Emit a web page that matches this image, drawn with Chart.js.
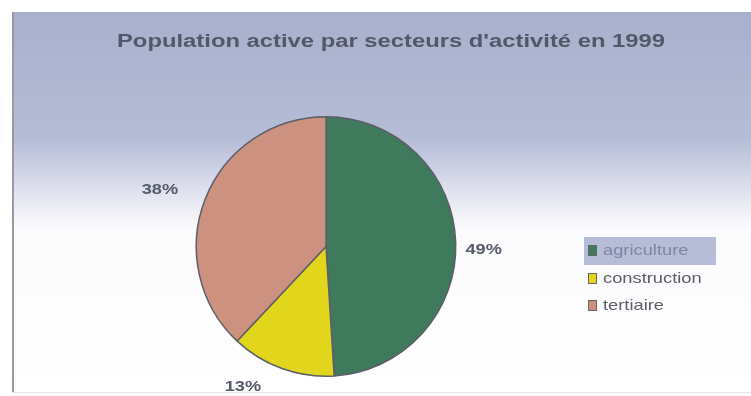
<!DOCTYPE html>
<html>
<head>
<meta charset="utf-8">
<script src="https://cdn.jsdelivr.net/npm/chart.js@4.4.1/dist/chart.umd.min.js"></script>
<style>
  html, body { margin: 0; padding: 0; background: #ffffff; }
  #wrap { position: relative; width: 751px; height: 396px; }
</style>
</head>
<body>
<div id="wrap"><canvas id="c" width="751" height="396"></canvas></div>
<script>
const chartTitle = "Population active par secteurs d'activité en 1999";
const categories = ["agriculture", "construction", "tertiaire"];
const shares = [49, 13, 38];
const sliceColors = ["#3f7a5c", "#e2d61c", "#cc917f"];

// draw text widened horizontally (scanned originals look stretched)
function wideText(ctx, text, x, y, sx, align) {
  const w = ctx.measureText(text).width * sx;
  let left = x;
  if (align === 'center') left = x - w / 2;
  ctx.save();
  ctx.textAlign = 'left';
  ctx.translate(left, y);
  ctx.scale(sx, 1);
  ctx.fillText(text, 0, 0);
  ctx.restore();
}

const bgPlugin = {
  id: 'bgPlugin',
  beforeDraw(chart) {
    const ctx = chart.ctx;
    ctx.save();
    ctx.fillStyle = '#ffffff';
    ctx.fillRect(0, 0, chart.width, chart.height);
    const g = ctx.createLinearGradient(0, 12, 0, 392);
    g.addColorStop(0, '#a8b0cc');
    g.addColorStop(0.33, '#b4bcd6');
    g.addColorStop(0.42, '#cfd3e5');
    g.addColorStop(0.50, '#e8e9f2');
    g.addColorStop(0.57, '#fbfbfd');
    g.addColorStop(1, '#ffffff');
    ctx.fillStyle = g;
    ctx.fillRect(12, 12, chart.width - 12, 380);
    ctx.strokeStyle = '#9a9aa2';
    ctx.lineWidth = 2;
    ctx.beginPath();
    ctx.moveTo(13, 12);
    ctx.lineTo(13, 392);
    ctx.stroke();
    ctx.strokeStyle = '#e4e4e8';
    ctx.lineWidth = 1;
    ctx.beginPath();
    ctx.moveTo(12, 392.5);
    ctx.lineTo(chart.width, 392.5);
    ctx.stroke();
    // title
    ctx.font = 'bold 18px "Liberation Sans", Arial, sans-serif';
    const tw = ctx.measureText(chartTitle).width;
    ctx.fillStyle = '#535868';
    ctx.textBaseline = 'middle';
    wideText(ctx, chartTitle, 117, 42, 548 / tw, 'left');
    ctx.restore();
  }
};

const labelPlugin = {
  id: 'labelPlugin',
  afterDatasetsDraw(chart) {
    const ctx = chart.ctx;
    const meta = chart.getDatasetMeta(0);
    ctx.save();
    ctx.font = 'bold 14px "Liberation Sans", Arial, sans-serif';
    ctx.fillStyle = '#565b68';
    ctx.textBaseline = 'middle';
    const extra = [26, 30, 36];
    const nudge = [[2, 9], [-29, -10], [-12, 5]];
    meta.data.forEach((arc, i) => {
      const p = arc.getProps(['x', 'y', 'startAngle', 'endAngle', 'outerRadius'], true);
      const mid = (p.startAngle + p.endAngle) / 2;
      const r = p.outerRadius + extra[i];
      const x = p.x + Math.cos(mid) * r + nudge[i][0];
      const y = p.y + Math.sin(mid) * r + nudge[i][1];
      wideText(ctx, shares[i] + '%', x, y, 1.3, 'center');
    });
    ctx.restore();
  }
};

const legendPlugin = {
  id: 'legendPlugin',
  afterDraw(chart) {
    const ctx = chart.ctx;
    ctx.save();
    ctx.fillStyle = 'rgba(145,155,195,0.65)';
    ctx.fillRect(584, 237, 132, 28);
    ctx.font = '15px "Liberation Sans", Arial, sans-serif';
    ctx.textBaseline = 'middle';
    const ys = [251, 279, 306];
    const textColors = ['#7e86a4', '#5a5e6a', '#5a5e6a'];
    categories.forEach((name, i) => {
      const y = ys[i];
      ctx.fillStyle = sliceColors[i];
      ctx.fillRect(588, y - 6, 9, 11);
      ctx.strokeStyle = '#666666';
      ctx.lineWidth = 1;
      ctx.strokeRect(588.5, y - 5.5, 8, 10);
      ctx.fillStyle = textColors[i];
      wideText(ctx, name, 603, y, 1.22, 'left');
    });
    ctx.restore();
  }
};

new Chart(document.getElementById('c'), {
  type: 'pie',
  data: {
    labels: categories,
    datasets: [{
      data: shares,
      backgroundColor: sliceColors,
      borderColor: '#5e5e6a',
      borderWidth: 1.5,
      hoverOffset: 0,
      offset: 0
    }]
  },
  options: {
    responsive: false,
    animation: false,
    events: [],
    layout: { padding: { left: 195, right: 294, top: 116, bottom: 19 } },
    plugins: {
      legend: { display: false },
      tooltip: { enabled: false },
      title: { display: false }
    }
  },
  plugins: [bgPlugin, labelPlugin, legendPlugin]
});
</script>
</body>
</html>
